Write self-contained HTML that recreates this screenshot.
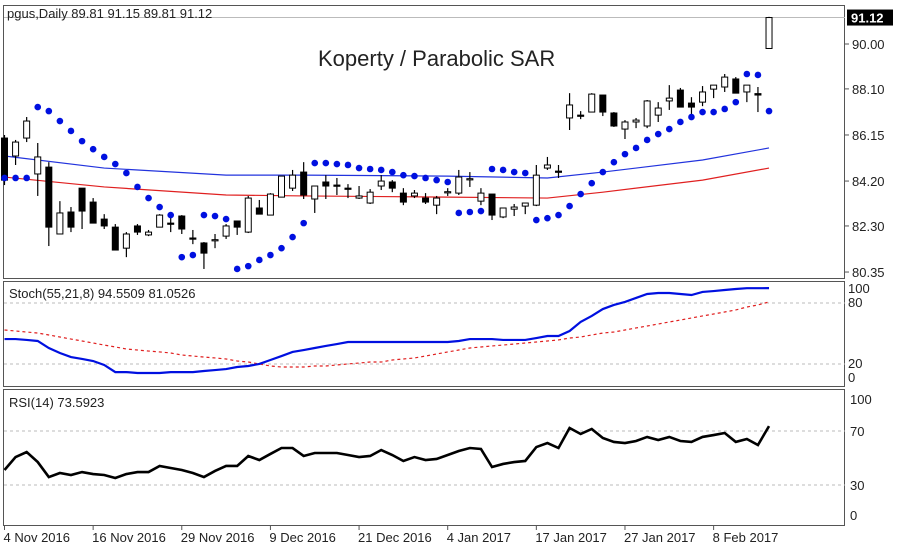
<!DOCTYPE html>
<html><head><meta charset="utf-8"><style>
body{margin:0;background:#fff;width:900px;height:554px;overflow:hidden}
svg{display:block;font-family:"Liberation Sans",Tahoma,sans-serif}
</style></head><body>
<svg id="c" width="900" height="554" viewBox="0 0 900 554"></svg>
<script>
const opens=[86.02,85.26,86.02,84.50,84.79,81.96,82.89,83.90,83.31,82.59,82.25,81.36,82.30,81.92,82.25,82.42,82.72,81.79,81.58,81.70,81.87,82.51,82.04,83.06,82.76,83.52,83.90,84.58,83.44,84.16,84.03,83.90,83.48,83.27,83.99,84.16,83.69,83.57,83.48,83.18,83.73,83.69,84.28,83.35,83.65,82.68,83.01,83.14,83.18,84.75,84.62,86.87,86.99,87.12,87.84,87.08,86.40,86.70,86.53,86.99,87.59,88.05,87.50,87.54,88.09,88.18,88.52,87.97,87.90,89.81];
const highs=[86.15,85.94,86.91,85.81,85.00,83.35,83.10,83.90,83.48,82.80,82.38,82.04,82.38,82.13,82.80,82.72,82.76,82.13,81.62,81.96,82.38,82.51,83.57,83.40,83.69,84.41,84.67,85.00,83.99,84.45,84.33,84.07,83.99,83.86,84.45,84.24,83.90,83.82,83.69,83.57,83.90,84.67,84.58,83.90,83.65,83.06,83.23,83.27,84.88,85.22,84.88,87.92,87.16,87.92,87.84,87.12,86.78,86.87,87.63,87.54,88.26,88.14,87.75,88.22,88.26,88.73,88.60,88.26,88.18,91.15];
const lows=[84.03,84.88,85.85,83.57,81.45,81.96,82.04,82.17,82.42,82.17,81.28,80.98,81.92,81.87,82.25,82.04,81.96,81.53,80.48,81.36,81.75,81.92,82.00,82.80,82.76,83.52,83.78,83.44,82.85,83.44,83.61,83.48,83.44,83.23,83.82,83.73,83.18,83.48,83.23,82.80,83.57,83.61,83.95,83.18,82.55,82.63,82.72,82.80,83.14,84.67,84.33,86.36,86.82,87.12,86.95,86.49,85.98,86.44,86.44,86.70,87.21,87.33,86.99,87.37,87.71,87.97,87.92,87.54,87.12,89.81];
const closes=[84.24,85.85,86.74,85.22,82.25,82.85,82.25,82.93,82.42,82.30,81.28,81.96,82.04,82.04,82.76,82.40,82.17,81.77,81.15,81.72,82.30,82.25,83.48,82.80,83.65,84.41,84.45,83.61,83.99,83.99,84.01,83.88,83.57,83.73,84.20,83.90,83.31,83.69,83.31,83.48,83.75,84.37,84.30,83.69,82.76,83.06,83.10,83.27,84.45,84.88,84.60,87.42,86.97,87.88,87.12,86.53,86.70,86.78,87.59,87.29,87.71,87.33,87.33,87.97,88.26,88.60,87.92,88.26,87.84,91.12];
const sar=[84.33,84.33,84.33,87.33,87.16,86.74,86.32,85.89,85.55,85.22,84.92,84.54,83.95,83.48,83.10,82.76,80.98,81.07,82.76,82.72,82.59,80.48,80.60,80.86,81.07,81.36,81.83,82.42,84.96,84.96,84.92,84.88,84.75,84.71,84.67,84.58,84.45,84.41,84.33,84.24,84.16,82.85,82.89,82.93,84.71,84.67,84.58,84.54,82.55,82.63,82.76,83.14,83.65,84.11,84.58,85.00,85.34,85.60,85.94,86.19,86.40,86.70,86.91,87.12,87.12,87.25,87.54,88.73,88.69,87.16];
const maIdx=[0,9,20,27,40,49,54,63,69];
const maFast=[85.26,84.75,84.45,84.45,84.41,84.33,84.58,85.09,85.60];
const maSlow=[84.37,83.95,83.61,83.57,83.52,83.48,83.73,84.24,84.75];
const stochK=[44.5,44.5,43.6,42.6,35.7,30.8,26.8,24.9,22.9,19,12,12,11.1,11.1,11.1,12,12,12,13.1,14,15,17,18,20,23.9,27.8,31.8,33.7,35.7,37.7,39.6,41.6,41.6,41.6,41.6,41.6,41.6,41.6,41.6,41.6,41.6,42.6,44.5,44.5,44.5,43.6,43.6,43.6,45.5,47.5,47.5,52.4,61.3,67.2,74,78,81,84.9,88.8,89.8,89.8,88.8,87.8,90.8,91.7,92.7,93.7,94.5,94.5,94.55];
const stochD=[53.4,52.4,51.4,50.4,48.5,46.5,44.5,42.6,40.6,38.6,36.7,34.7,33.7,32.7,31.8,30.8,28.8,27.8,26.8,25.9,24.9,22.9,21.9,20,18,17,17,17,18,18,19,20,20.9,21.9,21.9,23.9,24.9,25.9,27.8,29.8,31.8,33.7,35.7,36.7,37.7,38.6,39.6,40.6,41.6,42.6,43.6,45.5,46.5,48.5,50.4,51.4,53.4,55.4,57.3,59.3,61.3,63.2,65.2,67.2,69.1,71.1,73.1,76,78,81.05];
const rsi=[41.1,50.7,54.4,47,35.9,38.9,37.4,39.6,38.1,37.4,35.2,38.1,39.6,39.6,44.1,42.6,41.1,38.9,35.9,40.4,44.1,44.1,51.5,48.5,53,57.4,57.4,51.5,53.7,53.7,53.7,52.2,50.7,51.5,55.9,52.2,47.8,50.7,48.5,49.3,52.2,55.2,57.4,56.7,43.3,45.6,47,47.8,58.1,61.1,57.4,72.2,67.8,71.5,64.8,61.9,61.1,62.6,65.6,63.3,65.6,62.6,61.9,65.6,67,68.5,61.9,64.1,59.6,73.6];
const priceTicks=[90.00,88.10,86.15,84.20,82.30,80.35];
const dateLabels=["4 Nov 2016","16 Nov 2016","29 Nov 2016","9 Dec 2016","21 Dec 2016","4 Jan 2017","17 Jan 2017","27 Jan 2017","8 Feb 2017"];
const dateIdx=[0,8,16,24,32,40,48,56,64];

const S=document.getElementById('c');const NS='http://www.w3.org/2000/svg';
function mk(t,a,p){const e=document.createElementNS(NS,t);for(const k in a)e.setAttribute(k,a[k]);(p||S).appendChild(e);return e;}
const X=i=>4.5+11.08*i;
const Yp=p=>44+(90-p)*23.63;
const Ys=v=>384.3-v*1.017;
const Yr=v=>525.5-v*1.35;
const FS=13;

let e;
e=mk('rect',{x:3.5,y:5.5,width:841,height:273,fill:'#fff',stroke:'#555'});
e=mk('rect',{x:3.5,y:281.5,width:841,height:105,fill:'#fff',stroke:'#555'});
e=mk('rect',{x:3.5,y:389.5,width:841,height:136,fill:'#fff',stroke:'#555'});

priceTicks.forEach(p=>{const y=Yp(p);
 mk('line',{x1:845,x2:849,y1:y,y2:y,stroke:'#555'});
 e=mk('text',{x:852,y:y+5,'font-size':FS,fill:'#222'});e.textContent=p.toFixed(2);});
const last=closes[closes.length-1];
e=mk('line',{x1:4,x2:845,y1:Yp(last),y2:Yp(last),stroke:'#bbb'});
e=mk('rect',{x:847,y:Yp(last)-8,width:46,height:16,fill:'#000'});
e=mk('text',{x:851,y:Yp(last)+5,'font-size':FS,fill:'#fff','font-weight':'bold'});e.textContent=last.toFixed(2);

function maPath(vals,col,name){let d='';maIdx.forEach((ix,k)=>{d+=(k?'L':'M')+X(ix)+' '+Yp(vals[k]);});
 e=mk('path',{d:d,fill:'none',stroke:col,'stroke-width':1.2});}
maPath(maFast,'#2233dd','ma-fast-line');maPath(maSlow,'#e02020','ma-slow-line');

opens.forEach((o,i)=>{const c=closes[i],x=X(i);const g=mk('g',{});
 
 mk('line',{x1:x,x2:x,y1:Yp(highs[i]),y2:Yp(lows[i]),stroke:'#000','stroke-width':1.2},g);
 const t=Yp(Math.max(o,c)),b=Yp(Math.min(o,c));const h=Math.max(b-t,1.2);
 mk('rect',{x:x-3,y:t,width:6,height:h,fill:c>=o?'#fff':'#000',stroke:'#000','stroke-width':1},g);});

sar.forEach((v,i)=>{e=mk('circle',{cx:X(i),cy:Yp(v),r:3.3,fill:'#0010e0'});});

e=mk('text',{x:7,y:18,'font-size':FS,fill:'#222'});e.textContent='pgus,Daily  89.81 91.15 89.81 91.12';
e=mk('text',{x:318,y:66,'font-size':22,fill:'#222'});e.textContent='Koperty / Parabolic SAR';

[80,20].forEach(v=>{mk('line',{x1:4,x2:845,y1:Ys(v),y2:Ys(v),stroke:'#bbb','stroke-dasharray':'3,3'});});
[[100,293],[80,307],[20,368],[0,382]].forEach(a=>{e=mk('text',{x:848,y:a[1],'font-size':FS,fill:'#222'});e.textContent=a[0];});
function line(vals,yf,col,w,dash,name){const d=vals.map((v,i)=>(i?'L':'M')+X(i)+' '+yf(v)).join('');
 const a={d:d,fill:'none',stroke:col,'stroke-width':w};if(dash)a['stroke-dasharray']=dash;e=mk('path',a);}
line(stochD,Ys,'#e02020',1.2,'3,3','stoch-signal-line');
line(stochK,Ys,'#0010e0',2.2,null,'stoch-main-line');
e=mk('text',{x:9,y:298,'font-size':FS,fill:'#222'});e.textContent='Stoch(55,21,8) 94.5509 81.0526';

[70,30].forEach(v=>{mk('line',{x1:4,x2:845,y1:Yr(v),y2:Yr(v),stroke:'#bbb','stroke-dasharray':'3,3'});});
[[100,404],[70,436],[30,490],[0,520]].forEach(a=>{e=mk('text',{x:850,y:a[1],'font-size':FS,fill:'#222'});e.textContent=a[0];});
line(rsi,Yr,'#000',2.6,null,'rsi-line');
e=mk('text',{x:9,y:407,'font-size':FS,fill:'#222'});e.textContent='RSI(14) 73.5923';

dateLabels.forEach((l,k)=>{const x=X(dateIdx[k]);mk('line',{x1:x,x2:x,y1:526,y2:530,stroke:'#555'});
 e=mk('text',{x:x-1,y:542,'font-size':FS,fill:'#222'});e.textContent=l;});
</script>
</body></html>
